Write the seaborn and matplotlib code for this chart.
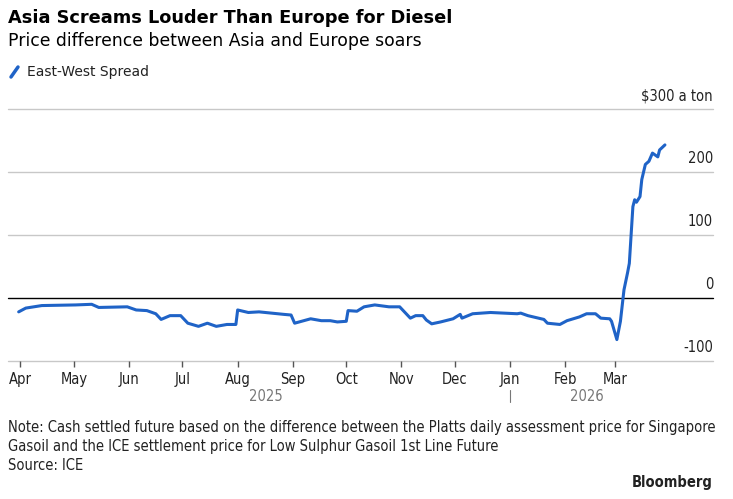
import pandas as pd
import matplotlib
matplotlib.use('Agg')
import matplotlib.pyplot as plt
import matplotlib.dates as mdates
import matplotlib.transforms as mtransforms
from matplotlib.lines import Line2D
import seaborn as sns

# East-West diesel spread, $ per ton
dates = [
    '2025-03-31', '2025-04-04', '2025-04-13', '2025-05-02', '2025-05-11', '2025-05-15',
    '2025-05-31', '2025-06-05', '2025-06-11', '2025-06-16', '2025-06-19', '2025-06-24',
    '2025-06-30', '2025-07-04', '2025-07-10', '2025-07-15', '2025-07-20', '2025-07-26',
    '2025-07-31', '2025-08-01', '2025-08-07', '2025-08-13', '2025-08-27', '2025-08-31',
    '2025-09-02', '2025-09-11', '2025-09-17', '2025-09-22', '2025-09-26', '2025-10-01',
    '2025-10-02', '2025-10-07', '2025-10-11', '2025-10-17', '2025-10-25', '2025-10-31',
    '2025-11-06', '2025-11-09', '2025-11-13', '2025-11-15', '2025-11-18', '2025-11-23',
    '2025-11-30', '2025-12-04', '2025-12-05', '2025-12-11', '2025-12-21', '2026-01-05',
    '2026-01-07', '2026-01-11', '2026-01-20', '2026-01-22', '2026-01-29', '2026-02-02',
    '2026-02-09', '2026-02-13', '2026-02-18', '2026-02-21', '2026-02-26', '2026-02-27',
    '2026-03-02', '2026-03-04', '2026-03-06', '2026-03-08', '2026-03-09', '2026-03-11',
    '2026-03-12', '2026-03-13', '2026-03-15', '2026-03-16', '2026-03-18', '2026-03-20',
    '2026-03-22', '2026-03-25', '2026-03-26', '2026-03-29',
]
spread = [
    -22, -16, -12, -11, -10, -15,
    -14, -19, -20, -25, -34, -28,
    -28, -40, -45, -40, -45, -42,
    -42, -19, -23, -22, -26, -27,
    -40, -33, -36, -36, -38, -37,
    -20, -21, -14, -11, -14, -14,
    -32, -28, -28, -35, -41, -38,
    -33, -26, -32, -25, -23, -25,
    -24, -28, -34, -40, -42, -36,
    -30, -25, -25, -32, -33, -37,
    -66, -37, 13, 40, 55, 145,
    156, 152, 161, 188, 212, 217,
    230, 224, 235, 243,
]

month_ticks = pd.date_range('2025-04-01', '2026-03-01', freq='MS')
y_ticks = [-100, 0, 100, 200, 300]
y_labels = ['-100', '0', '100', '200', '$300 a ton']

title = 'Asia Screams Louder Than Europe for Diesel'
subtitle = 'Price difference between Asia and Europe soars'
series_name = 'East-West Spread'
note = ('Note: Cash settled future based on the difference between the Platts daily assessment price for Singapore\n'
        'Gasoil and the ICE settlement price for Low Sulphur Gasoil 1st Line Future')
source = 'Source: ICE'

df = pd.DataFrame({'date': pd.to_datetime(dates), 'spread': spread})

sns.set_style('white')
plt.rcParams['font.family'] = ['DejaVu Sans']

BLUE = '#1f63c7'
GRID = '#c8c8c8'
TXT = '#222222'

fig = plt.figure(figsize=(7.33, 4.99), dpi=100)
ax = fig.add_axes([8 / 733, 1 - 361 / 499, (713 - 8) / 733, (361 - 109) / 499])

sns.lineplot(data=df, x='date', y='spread', ax=ax, color=BLUE, linewidth=2.2)

ax.set_xlim(pd.Timestamp('2025-03-25'), pd.Timestamp('2026-04-25'))
ax.set_ylim(-100, 300)
for s in ax.spines.values():
    s.set_visible(False)

for v in y_ticks:
    ax.axhline(v, color=GRID if v != 0 else 'black', linewidth=1.0,
               zorder=0 if v != 0 else 1, clip_on=False)

ax.set_yticks([])
ax.set_ylabel('')
ax.set_xlabel('')

cond = dict(fontstretch='condensed')
lab_tr = mtransforms.offset_copy(ax.get_yaxis_transform(), fig=fig, x=0, y=4, units='points')
for v, lab in zip(y_ticks, y_labels):
    ax.text(1.0, v, lab, transform=lab_tr, ha='right', va='bottom', fontsize=10.5, color=TXT, **cond)

ax.set_xticks(month_ticks)
ax.xaxis.set_major_formatter(mdates.DateFormatter('%b'))
ax.tick_params(axis='x', direction='out', length=4, width=1, color='#555555', pad=4,
               labelsize=10.5, labelcolor=TXT, bottom=True)
for t in ax.get_xticklabels():
    t.set_fontstretch('condensed')

# year labels under the month axis
xt = ax.get_xaxis_transform()
ax.text(pd.Timestamp('2025-08-17'), -0.11, '2025', transform=xt, ha='center', va='top',
        fontsize=10.5, color='#777777', **cond)
ax.text(pd.Timestamp('2026-02-13'), -0.11, '2026', transform=xt, ha='center', va='top',
        fontsize=10.5, color='#777777', **cond)
ax.plot([pd.Timestamp('2026-01-01')] * 2, [-0.115, -0.163], transform=xt, color='#777777',
        linewidth=0.8, clip_on=False)

# header
fig.text(8 / 733, 1 - 18 / 499, title, fontsize=12.8, fontweight='bold', color='black', va='center')
fig.text(8 / 733, 1 - 41 / 499, subtitle, fontsize=12.4, color='black', va='center')
fig.add_artist(Line2D([11 / 733, 18 / 733], [1 - 77 / 499, 1 - 67 / 499], color=BLUE, linewidth=2.5))
fig.text(27 / 733, 1 - 72 / 499, series_name, fontsize=10, color=TXT, va='center')

# footer
fig.text(8 / 733, 1 - 420 / 499, note, fontsize=10.5, color=TXT, va='top', linespacing=1.32, **cond)
fig.text(8 / 733, 1 - 465 / 499, source, fontsize=10.5, color=TXT, va='center', **cond)
fig.text(713 / 733, 1 - 483 / 499, 'Bloomberg', fontsize=10.5, fontweight='bold', color=TXT,
         ha='right', va='center', **cond)

fig.savefig('out.png', dpi=100)
